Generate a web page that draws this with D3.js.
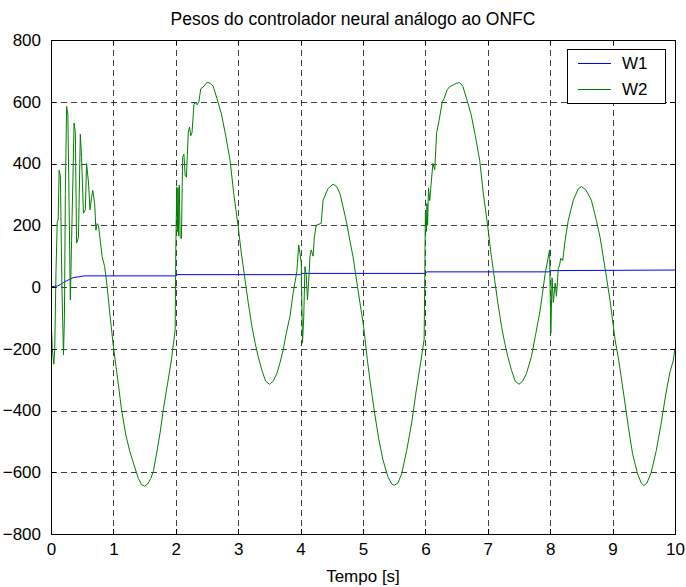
<!DOCTYPE html>
<html>
<head>
<meta charset="utf-8">
<script src="https://cdn.jsdelivr.net/npm/d3@7/dist/d3.min.js"></script>
<style>
  html, body { margin: 0; padding: 0; background: #fff; }
  svg { display: block; }
  text { font-family: "Liberation Sans", Arial, Helvetica, sans-serif; fill: #000; }
</style>
</head>
<body>
<svg id="chart" width="686" height="587"></svg>
<script>
// ---- data ----
const titleText = "Pesos do controlador neural análogo ao ONFC";
const xLabelText = "Tempo [s]";
const seriesNames = ["W1", "W2"];
const seriesColors = ["#0000ff", "#008000"];
const xTicks = [0, 1, 2, 3, 4, 5, 6, 7, 8, 9, 10];
const yTicks = [-800, -600, -400, -200, 0, 200, 400, 600, 800];

const w1Time  = [0, 0.05, 0.1, 0.15, 0.2, 0.25, 0.3, 0.35, 0.4, 0.45, 0.5, 0.55, 2.0, 2.02, 4.0, 4.02, 6.0, 6.02, 7.98, 8.0, 10];
const w1Value = [0, 2, 3, 8, 15, 20, 25, 30, 32, 33, 35, 36, 36, 40, 40, 44, 44, 49, 49, 53, 55];

const w2Time = [
  0, 0.02, 0.045, 0.06, 0.08, 0.1, 0.115, 0.13, 0.15, 0.175, 0.2, 0.215, 0.23, 0.25, 0.27, 0.31, 0.33, 0.37, 0.39, 0.41,
  0.44, 0.47, 0.49, 0.52, 0.55, 0.57, 0.6, 0.625, 0.65, 0.67, 0.7, 0.72, 0.74, 0.76, 0.79, 0.82, 0.86, 0.9, 0.95, 1.0,
  1.07, 1.13, 1.2, 1.26, 1.32, 1.4, 1.45, 1.5, 1.55, 1.6, 1.64, 1.7, 1.75, 1.8, 1.87, 1.93, 1.99, 2.0, 2.015, 2.025,
  2.035, 2.045, 2.055, 2.07, 2.09, 2.11, 2.13, 2.15, 2.17, 2.2, 2.22, 2.24, 2.26, 2.29, 2.31, 2.34, 2.37, 2.4, 2.45, 2.5,
  2.55, 2.6, 2.66, 2.73, 2.8, 2.87, 2.93, 3.0, 3.05, 3.11, 3.16, 3.22, 3.27, 3.32, 3.38, 3.44, 3.5, 3.56, 3.62, 3.67,
  3.72, 3.77, 3.83, 3.88, 3.94, 3.97, 4.01, 4.03, 4.05, 4.07, 4.09, 4.11, 4.13, 4.15, 4.17, 4.2, 4.22, 4.25, 4.33, 4.36,
  4.44, 4.52, 4.58, 4.63, 4.68, 4.74, 4.79, 4.84, 4.92, 5.01, 5.07, 5.11, 5.18, 5.25, 5.32, 5.4, 5.46, 5.5, 5.56, 5.62,
  5.7, 5.78, 5.85, 5.92, 5.98, 6.0, 6.015, 6.025, 6.035, 6.05, 6.07, 6.09, 6.12, 6.15, 6.18, 6.22, 6.27, 6.3, 6.35, 6.4,
  6.45, 6.5, 6.55, 6.6, 6.66, 6.73, 6.8, 6.87, 6.93, 7.0, 7.05, 7.11, 7.16, 7.22, 7.27, 7.32, 7.38, 7.44, 7.5, 7.56,
  7.62, 7.7, 7.77, 7.84, 7.92, 7.99, 8.01, 8.03, 8.05, 8.08, 8.1, 8.13, 8.15, 8.17, 8.2, 8.24, 8.29, 8.37, 8.45, 8.5,
  8.57, 8.66, 8.74, 8.8, 8.88, 8.96, 9.04, 9.1, 9.18, 9.25, 9.32, 9.4, 9.46, 9.5, 9.55, 9.62, 9.7, 9.78, 9.85, 9.92,
  9.97, 10.0
];
const w2Value = [
  -90, -200, -250, -200, 50, 210, 220, 378, 360, 0, -220, -100, 300, 585, 560, -42, 150, 531, 500, 142,
  160, 495, 420, 239, 250, 400, 340, 250, 290, 313, 270, 184, 205, 200, 150, 98, 66, 0, -100, -193,
  -300, -397, -480, -530, -570, -620, -640, -645, -638, -620, -597, -530, -470, -397, -310, -236, -139, 120, 324, 180,
  320, 165, 330, 160, 157, 420, 430, 360, 356, 500, 518, 490, 500, 590, 599, 590, 600, 642, 650, 663,
  660, 650, 610, 561, 490, 410, 300, 195, 110, 23, -50, -128, -180, -225, -270, -305, -315, -305, -280, -245,
  -204, -150, -95, -20, 50, 136, 80, -182, -100, 66, 40, -42, 20, 98, 120, 100, 160, 200, 206, 281,
  319, 333, 325, 303, 260, 206, 150, 98, -10, -128, -236, -300, -400, -490, -560, -615, -638, -642, -635, -605,
  -530, -440, -340, -250, -170, 240, 180, 270, 200, 320, 280, 330, 400, 380, 500, 540, 600, 610, 640, 650,
  655, 660, 662, 650, 610, 561, 490, 410, 300, 195, 110, 23, -50, -128, -180, -225, -270, -305, -315, -305,
  -280, -225, -150, -74, 44, 120, -150, 30, -50, 13, -30, 60, 71, 93, 85, 152, 216, 281, 318, 325,
  315, 281, 216, 160, 60, -45, -171, -240, -350, -450, -540, -605, -635, -643, -635, -600, -530, -440, -350, -275,
  -240, -200
];

// ---- layout ----
const W = 686, H = 587;
const plot = { left: 51, right: 675, top: 40, bottom: 534 };
const svg = d3.select("#chart");

const x = d3.scaleLinear().domain([0, 10]).range([plot.left, plot.right]);
const y = d3.scaleLinear().domain([-800, 800]).range([plot.bottom, plot.top]);

svg.append("rect").attr("x", 0).attr("y", 0).attr("width", W).attr("height", H).attr("fill", "#fff");

// grid
const grid = svg.append("g").attr("stroke", "#000").attr("stroke-width", 1).attr("stroke-dasharray", "6,4").attr("shape-rendering", "crispEdges");
grid.selectAll(".vg").data(xTicks.slice(1, -1)).enter().append("line")
  .attr("x1", d => Math.round(x(d)) + 0.5).attr("x2", d => Math.round(x(d)) + 0.5)
  .attr("y1", plot.top).attr("y2", plot.bottom).attr("stroke-opacity", 0.75);
grid.selectAll(".hg").data(yTicks.slice(1, -1)).enter().append("line")
  .attr("y1", d => Math.round(y(d)) + 0.5).attr("y2", d => Math.round(y(d)) + 0.5)
  .attr("x1", plot.left).attr("x2", plot.right).attr("stroke-opacity", 0.75);

// lines
svg.append("clipPath").attr("id", "clip").append("rect")
  .attr("x", plot.left).attr("y", plot.top).attr("width", plot.right - plot.left).attr("height", plot.bottom - plot.top);

const lineGen = d3.line().x(d => x(d[0])).y(d => y(d[1]));
const w1Data = w1Time.map((t, i) => [t, w1Value[i]]);
const w2Data = w2Time.map((t, i) => [t, w2Value[i]]);

const lines = svg.append("g").attr("clip-path", "url(#clip)");
lines.append("path").datum(w1Data).attr("d", lineGen).attr("fill", "none").attr("stroke", seriesColors[0]).attr("stroke-width", 1);
lines.append("path").datum(w2Data).attr("d", lineGen).attr("fill", "none").attr("stroke", seriesColors[1]).attr("stroke-width", 1);

// axes (inside ticks on all four sides)
const tickLen = 5;
const fontTick = "17px";
const xAxisB = d3.axisBottom(x).tickValues(xTicks).tickSize(-tickLen).tickPadding(9).tickFormat(d3.format("d"));
const xAxisT = d3.axisTop(x).tickValues(xTicks).tickSize(-tickLen).tickFormat("");
const yAxisL = d3.axisLeft(y).tickValues(yTicks).tickSize(-tickLen).tickPadding(10).tickFormat(d3.format("d"));
const yAxisR = d3.axisRight(y).tickValues(yTicks).tickSize(-tickLen).tickFormat("");

function styleAxis(g) {
  g.select(".domain").remove();
  g.selectAll("line").attr("stroke", "#000").attr("shape-rendering", "crispEdges");
  g.selectAll("text").style("font-family", '"Liberation Sans", Arial, sans-serif').style("font-size", fontTick).attr("fill", "#000");
}
svg.append("g").attr("transform", `translate(0,${plot.bottom})`).call(xAxisB).call(styleAxis);
svg.append("g").attr("transform", `translate(0,${plot.top})`).call(xAxisT).call(styleAxis);
svg.append("g").attr("transform", `translate(${plot.left},0)`).call(yAxisL).call(styleAxis);
svg.append("g").attr("transform", `translate(${plot.right},0)`).call(yAxisR).call(styleAxis);

svg.append("rect").attr("x", plot.left + 0.5).attr("y", plot.top + 0.5)
  .attr("width", plot.right - plot.left).attr("height", plot.bottom - plot.top)
  .attr("fill", "none").attr("stroke", "#000").attr("stroke-width", 1).attr("shape-rendering", "crispEdges");

// title & label
svg.append("text").attr("x", (plot.left + plot.right) / 2 - 10).attr("y", 25).attr("text-anchor", "middle")
  .style("font-size", "17.5px").text(titleText);
svg.append("text").attr("x", (plot.left + plot.right) / 2).attr("y", 582).attr("text-anchor", "middle")
  .style("font-size", "17px").text(xLabelText);

// legend
const leg = svg.append("g");
leg.append("rect").attr("x", 567.5).attr("y", 49.5).attr("width", 98).attr("height", 54)
  .attr("fill", "#fff").attr("stroke", "#000").attr("stroke-width", 1).attr("shape-rendering", "crispEdges");
const legRows = [63, 89];
seriesNames.forEach((name, i) => {
  leg.append("line").attr("x1", 578).attr("x2", 611).attr("y1", legRows[i] + 0.5).attr("y2", legRows[i] + 0.5)
    .attr("stroke", seriesColors[i]).attr("stroke-width", 1.2);
  leg.append("text").attr("x", 622).attr("y", legRows[i]).attr("dy", "0.36em")
    .style("font-size", "17px").text(name);
});
</script>
</body>
</html>
